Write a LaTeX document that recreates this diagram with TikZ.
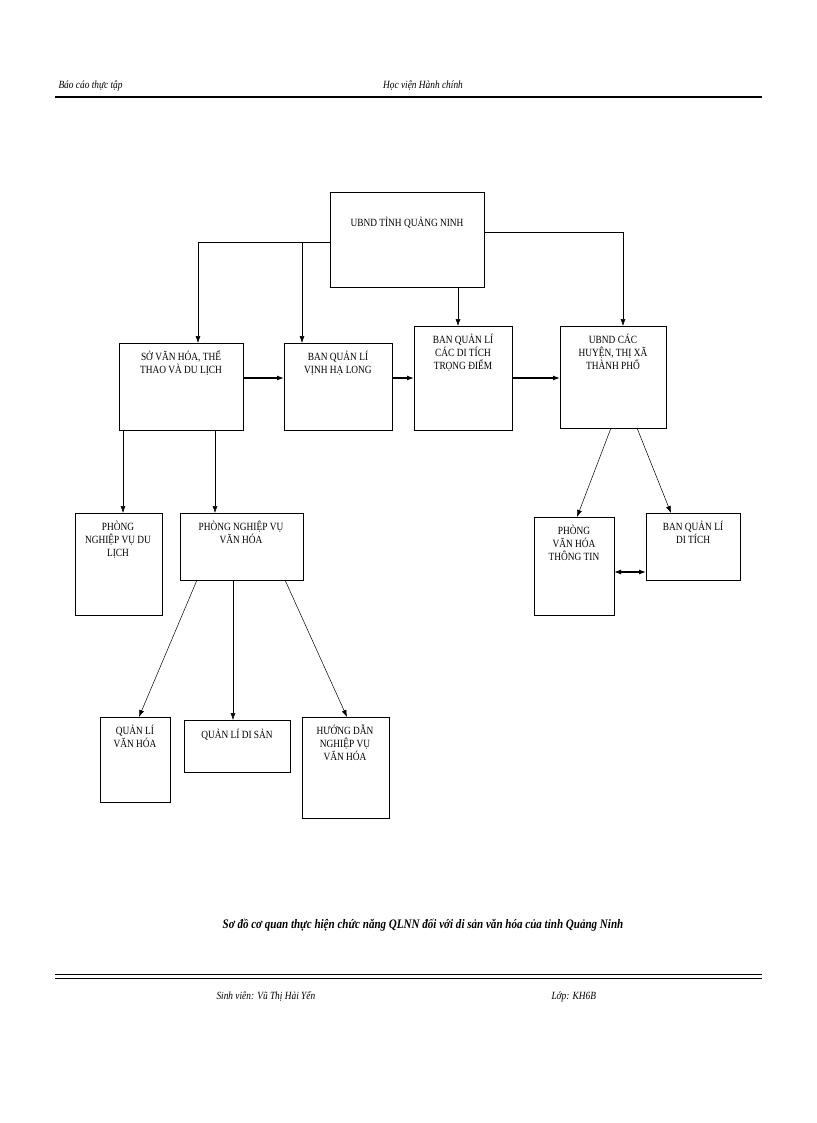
\documentclass[tikz,border=0pt]{standalone}
\usepackage{fontspec}
\setmainfont{Liberation Serif}[FakeStretch=0.85]
\usetikzlibrary{arrows.meta}
\begin{document}
\begin{tikzpicture}[x=1pt,y=-1pt,
  box/.style={draw,line width=0.8pt},
  lbl/.style={anchor=north,align=center,font=\fontsize{11}{13}\selectfont,inner sep=0pt},
  arr/.style={-{Latex[length=7pt,width=5pt]},line width=0.5pt},
  harr/.style={-{Latex[length=7pt,width=5pt]},line width=1.2pt}]
\useasboundingbox (0,0) rectangle (816,1123);
% header
\node[anchor=base west,font=\itshape\fontsize{11}{13}\selectfont] (h1) at (55,89) {Báo cáo thực tập};
\node[anchor=base,font=\itshape\fontsize{11}{13}\selectfont] (h2) at (423,89) {Học viện Hành chính};
\draw[line width=2pt] (55,97) -- (762,97);
% boxes
\draw[box] (330,192) rectangle (484,287); \node[lbl] (t) at (407,217) {UBND TỈNH QUẢNG NINH};
\coordinate (tl) at (330,242); \coordinate (tr) at (484,232);
\draw[box] (119,343) rectangle (243,430); \node[lbl] (so) at (181,351) {SỞ VĂN HÓA, THỂ\\THAO VÀ DU LỊCH};
\draw[box] (284,343) rectangle (392,430); \node[lbl] (bv) at (338,351) {BAN QUẢN LÍ\\VỊNH HẠ LONG};
\draw[box] (414,326) rectangle (512,430); \node[lbl] (bd) at (463,334) {BAN QUẢN LÍ\\CÁC DI TÍCH\\TRỌNG ĐIỂM};
\draw[box] (560,326) rectangle (666,428); \node[lbl] (uc) at (613,334) {UBND CÁC\\HUYỆN, THỊ XÃ\\THÀNH PHỐ};
\draw[box] (75,513) rectangle (162,615); \node[lbl] (p1) at (118,521) {PHÒNG\\NGHIỆP VỤ DU\\LỊCH};
\draw[box] (180,513) rectangle (303,580); \node[lbl] (p2) at (241,521) {PHÒNG NGHIỆP VỤ\\VĂN HÓA};
\draw[box] (100,717) rectangle (170,802); \node[lbl] (q1) at (135,725) {QUẢN LÍ\\VĂN HÓA};
\draw[box] (184,720) rectangle (290,772); \node[lbl] (q2) at (237,729) {QUẢN LÍ DI SẢN};
\draw[box] (302,717) rectangle (389,818); \node[lbl] (q3) at (345,725) {HƯỚNG DẪN\\NGHIỆP VỤ\\VĂN HÓA};
\draw[box] (534,517) rectangle (614,615); \node[lbl] (r1) at (574,525) {PHÒNG\\VĂN HÓA\\THÔNG TIN};
\draw[box] (646,513) rectangle (740,580); \node[lbl] (r2) at (693,521) {BAN QUẢN LÍ\\DI TÍCH};
% connectors
\draw[line width=0.8pt] (tl) -- (198,242);
\draw[arr] (198,242) -- (198,343);
\draw[arr] (302,242) -- (302,343);
\draw[arr] (458,287) -- (458,326);
\draw[line width=0.8pt] (tr) -- (623,232);
\draw[arr] (623,232) -- (623,326);
\draw[harr] (243,378) -- (284,378);
\draw[harr] (392,378) -- (414,378);
\draw[harr] (512,378) -- (560,378);
\draw[arr] (123,430) -- (123,513);
\draw[arr] (215,430) -- (215,513);
\draw[arr] (197,580) -- (139,717);
\draw[arr] (233,580) -- (233,720);
\draw[arr] (285,580) -- (347,717);
\draw[arr] (611,428) -- (577,517);
\draw[arr] (637,428) -- (671,513);
\draw[{Latex[length=7pt,width=5pt]}-{Latex[length=7pt,width=5pt]},line width=1.2pt] (614,572) -- (646,572);
% caption and footer
\node[font=\bfseries\itshape\fontsize{13}{15}\selectfont] (cap) at (423,925) {Sơ đồ cơ quan thực hiện chức năng QLNN đối với di sản văn hóa của tỉnh Quảng Ninh};
\draw[line width=1pt] (55,974) -- (762,974);
\draw[line width=1pt] (55,978) -- (762,978);
\node[anchor=base west,font=\itshape\fontsize{11}{13}\selectfont] (f1) at (213,999) {Sinh viên: Vũ Thị Hải Yến};
\node[anchor=base west,font=\itshape\fontsize{11}{13}\selectfont] (f2) at (548,999) {Lớp: KH6B};
\end{tikzpicture}
\end{document}
